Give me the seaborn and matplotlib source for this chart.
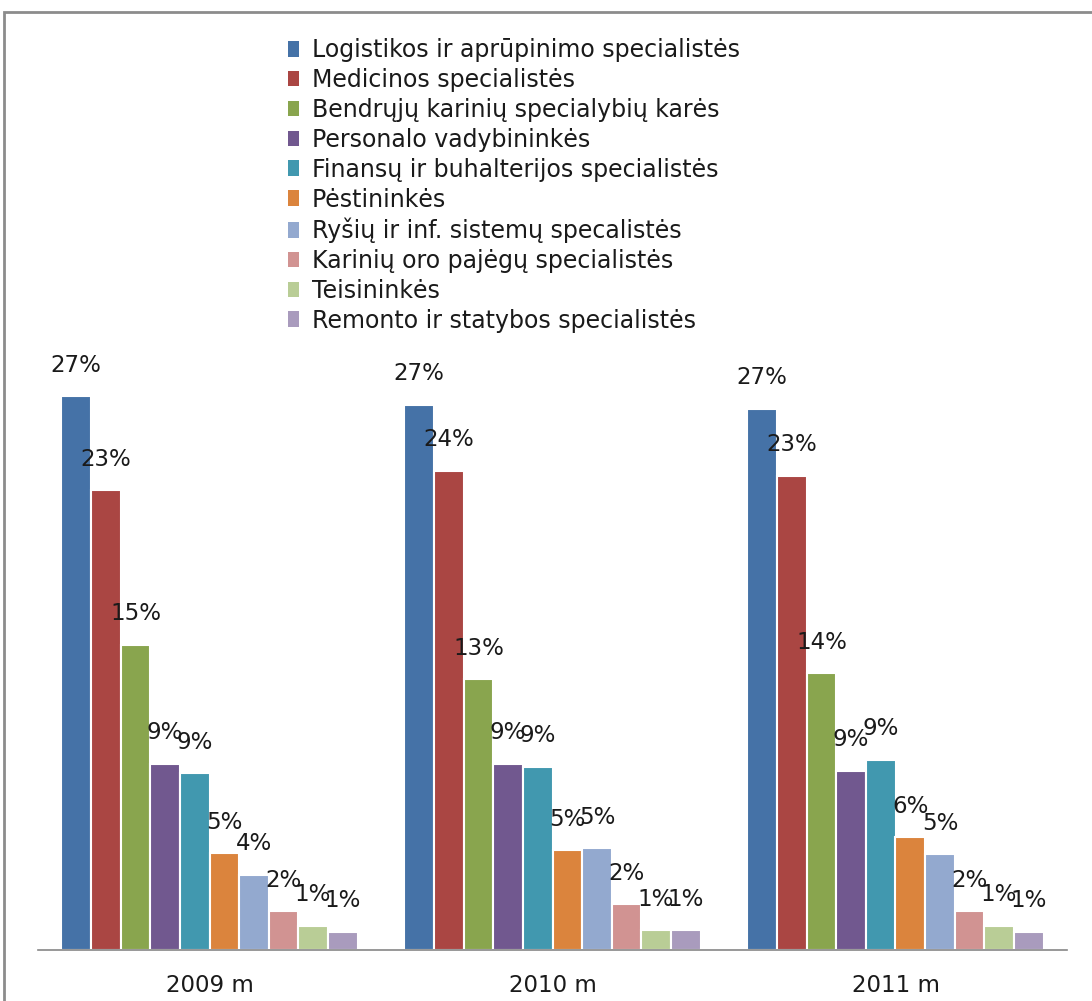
"""
Moterys kariuomeneje pagal specialybes, 2009-2011 m.
"""

import matplotlib
matplotlib.use("Agg")
import matplotlib.pyplot as plt
import pandas as pd
import seaborn as sns
from matplotlib.patches import Rectangle

years = ["2009 m", "2010 m", "2011 m"]
categories = [
    "Logistikos ir aprūpinimo specialistės",
    "Medicinos specialistės",
    "Bendrųjų karinių specialybių karės",
    "Personalo vadybininkės",
    "Finansų ir buhalterijos specialistės",
    "Pėstininkės",
    "Ryšių ir inf. sistemų specalistės",
    "Karinių oro pajėgų specialistės",
    "Teisininkės",
    "Remonto ir statybos specialistės",
]
# shares in %
share_2009 = [27.2, 22.6, 15.0, 9.15, 8.7, 4.75, 3.7, 1.9, 1.2, 0.9]
share_2010 = [26.8, 23.55, 13.3, 9.15, 9.0, 4.9, 5.0, 2.25, 0.97, 0.97]
share_2011 = [26.6, 23.3, 13.6, 8.8, 9.35, 5.55, 4.7, 1.9, 1.2, 0.9]

colors = ["#4572A7", "#AA4643", "#89A54E", "#71588F", "#4198AF",
          "#DB843D", "#93A9CF", "#D19392", "#B9CD96", "#A99BBD"]

rows = []
for year, vals in zip(years, [share_2009, share_2010, share_2011]):
    for cat, v in zip(categories, vals):
        rows.append({"Metai": year, "Specialybė": cat, "Dalis": v})
df = pd.DataFrame(rows)

sns.set_style("white")
plt.rcParams["font.family"] = ["DejaVu Sans"]

fig = plt.figure(figsize=(10.92, 10.01), dpi=100)
ax = fig.add_axes([38 / 1092, 51 / 1001, 1029 / 1092, 610.5 / 1001])

sns.barplot(data=df, x="Metai", y="Dalis", hue="Specialybė",
            order=years, hue_order=categories, palette=colors,
            width=0.863, gap=0, edgecolor="white", linewidth=1.5,
            saturation=1, ax=ax)

for cont in ax.containers:
    ax.bar_label(cont, fmt="{:.0f}%", padding=14, fontsize=16.5, color="#1a1a1a")

ax.set_ylim(0, 30)
ax.set_xlim(-0.5, 2.5)
ax.set_xlabel("")
ax.set_ylabel("")
ax.set_yticks([])
ax.tick_params(axis="x", length=0, labelsize=16.5, labelcolor="#1a1a1a", pad=17)
for s in ["top", "right", "left"]:
    ax.spines[s].set_visible(False)
ax.spines["bottom"].set_color("#868686")
ax.spines["bottom"].set_linewidth(1.2)

sns.move_legend(ax, loc="upper left", bbox_to_anchor=(288 / 1092, 1 - 38 / 1001),
                bbox_transform=fig.transFigure, frameon=False, title=None,
                fontsize=17, handlelength=0.45, handleheight=0.65,
                handletextpad=0.55, labelspacing=0.25, borderpad=0,
                borderaxespad=0, labelcolor="#1a1a1a")
for h in ax.get_legend().legend_handles:
    h.set_edgecolor("none")

# grey frame round the chart area
fig.patches.append(Rectangle((4 / 1092, -0.1), 1.2, 1.1 - 12 / 1001,
                             transform=fig.transFigure, fill=False,
                             edgecolor="#8c8c8c", linewidth=2))

plt.savefig("out.png", dpi=100)
